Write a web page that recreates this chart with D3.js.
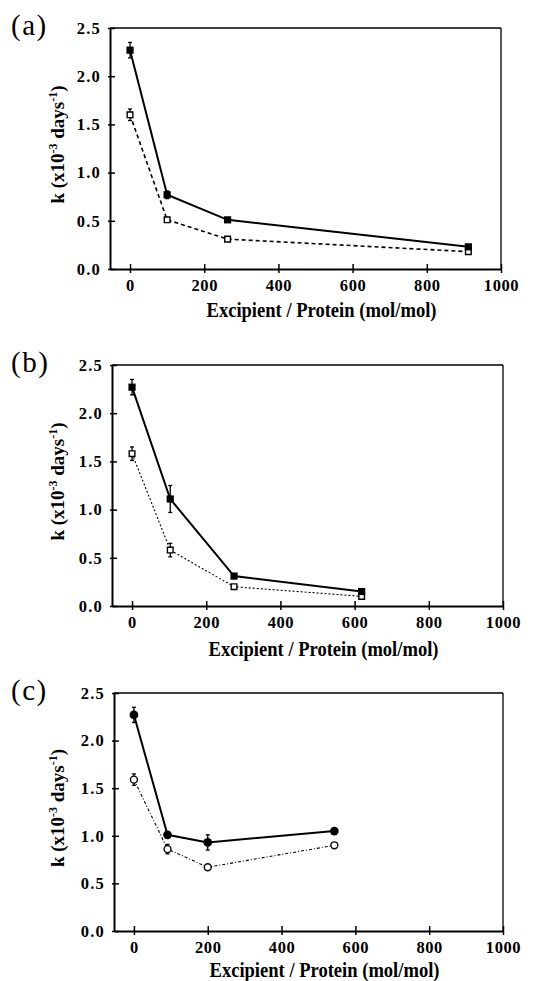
<!DOCTYPE html>
<html>
<head>
<meta charset="utf-8">
<script src="https://cdn.jsdelivr.net/npm/d3@7"></script>
<style>
  body { margin: 0; background: #fff; }
  svg text { font-family: "Liberation Serif", "Times New Roman", serif; font-weight: bold; fill: #000; }
</style>
</head>
<body>
<div id="chart"></div>
<script>
// ratio excipient/protein (mol/mol) and k (x10^-3 days^-1)
const xA = [0, 100, 263, 912];
const filledA = [2.27, 0.77, 0.51, 0.23];
const openA = [1.60, 0.51, 0.31, 0.18];
const errFilledA = [0.08, 0.04, 0, 0];
const errOpenA = [0.06, 0, 0, 0];

const xB = [0, 103, 275, 619];
const filledB = [2.27, 1.11, 0.31, 0.15];
const openB = [1.58, 0.58, 0.20, 0.10];
const errFilledB = [0.08, 0.14, 0, 0];
const errOpenB = [0.07, 0.07, 0, 0];

const xC = [0, 91, 200, 543];
const filledC = [2.27, 1.01, 0.93, 1.05];
const openC = [1.59, 0.86, 0.67, 0.90];
const errFilledC = [0.08, 0, 0.08, 0];
const errOpenC = [0.06, 0.05, 0, 0];

const xTicks = [0, 200, 400, 600, 800, 1000];
const yTicks = [0, 0.5, 1.0, 1.5, 2.0, 2.5];

const panels = [
  { label: '(a)', x: xA, filled: filledA, open: openA, errF: errFilledA, errO: errOpenA,
    marker: 'square', dash: '4,3', openWidth: 1.6, left: 110, right: 501, top: 28, bottom: 269, titleGap: 48 },
  { label: '(b)', x: xB, filled: filledB, open: openB, errF: errFilledB, errO: errOpenB,
    marker: 'square', dash: '2,2', openWidth: 1.1, left: 112, right: 503, top: 365, bottom: 606, titleGap: 50 },
  { label: '(c)', x: xC, filled: filledC, open: openC, errF: errFilledC, errO: errOpenC,
    marker: 'circle', dash: '3,2,1,2', openWidth: 1.1, left: 114, right: 503, top: 693, bottom: 931, titleGap: 46 }
];

const svg = d3.select('#chart')
  .append('svg')
  .attr('width', 534)
  .attr('height', 981);

panels.forEach(p => drawPanel(p));

function drawPanel (p) {
  const x = d3.scaleLinear().domain([-54, 1000]).range([p.left, p.right]);
  const y = d3.scaleLinear().domain([0, 2.5]).range([p.bottom, p.top]);
  const g = svg.append('g');

  // frame
  g.append('line').attr('x1', p.left).attr('x2', p.right).attr('y1', p.top).attr('y2', p.top)
    .attr('stroke', '#000').attr('stroke-width', 1.3);
  g.append('line').attr('x1', p.right).attr('x2', p.right).attr('y1', p.top).attr('y2', p.bottom)
    .attr('stroke', '#000').attr('stroke-width', 1.3);

  // x axis
  const xAxis = d3.axisBottom(x).tickValues(xTicks).tickFormat(d3.format('d'))
    .tickSizeInner(4).tickSizeOuter(0).tickPadding(6);
  const gx = g.append('g')
    .attr('transform', `translate(0,${p.bottom})`)
    .call(xAxis);
  gx.select('.domain').attr('stroke-width', 2);
  gx.selectAll('.tick line').attr('y1', -5).attr('stroke-width', 1.5);
  gx.selectAll('.tick text').style('font-size', '16.5px').style('letter-spacing', '0.6px')
    .style('font-family', null);

  // y axis
  const yAxis = d3.axisLeft(y).tickValues(yTicks).tickFormat(d3.format('.1f'))
    .tickSizeInner(2).tickSizeOuter(0).tickPadding(7);
  const gy = g.append('g')
    .attr('transform', `translate(${p.left},0)`)
    .call(yAxis);
  gy.select('.domain').attr('stroke-width', 2);
  gy.selectAll('.tick line').attr('x2', 5).attr('x1', -2).attr('stroke-width', 1.5);
  gy.selectAll('.tick text').style('font-size', '16.5px').style('letter-spacing', '1.2px')
    .style('font-family', null);

  const line = d3.line().x(d => x(d[0])).y(d => y(d[1]));
  const filledPts = p.x.map((v, i) => [v, p.filled[i], p.errF[i]]);
  const openPts = p.x.map((v, i) => [v, p.open[i], p.errO[i]]);

  g.append('path').attr('d', line(openPts)).attr('fill', 'none')
    .attr('stroke', '#000').attr('stroke-width', p.openWidth).attr('stroke-dasharray', p.dash);
  g.append('path').attr('d', line(filledPts)).attr('fill', 'none')
    .attr('stroke', '#000').attr('stroke-width', 2);

  // error bars
  [filledPts, openPts].forEach(pts => {
    const eb = g.append('g').selectAll('g').data(pts.filter(d => d[2] > 0)).enter().append('g');
    eb.append('line')
      .attr('x1', d => x(d[0])).attr('x2', d => x(d[0]))
      .attr('y1', d => y(d[1] - d[2])).attr('y2', d => y(d[1] + d[2]))
      .attr('stroke', '#000').attr('stroke-width', 1.3);
    eb.append('line')
      .attr('x1', d => x(d[0]) - 2).attr('x2', d => x(d[0]) + 2)
      .attr('y1', d => y(d[1] + d[2])).attr('y2', d => y(d[1] + d[2]))
      .attr('stroke', '#000').attr('stroke-width', 1.3);
    eb.append('line')
      .attr('x1', d => x(d[0]) - 2).attr('x2', d => x(d[0]) + 2)
      .attr('y1', d => y(d[1] - d[2])).attr('y2', d => y(d[1] - d[2]))
      .attr('stroke', '#000').attr('stroke-width', 1.3);
  });

  // markers
  const sym = d3.symbol().type(p.marker === 'square' ? d3.symbolSquare : d3.symbolCircle);
  g.append('g').selectAll('path').data(openPts).enter().append('path')
    .attr('d', sym.size(p.marker === 'square' ? 32 : 38)())
    .attr('transform', d => `translate(${x(d[0])},${y(d[1])})`)
    .attr('fill', '#fff').attr('stroke', '#000').attr('stroke-width', 1.4);
  g.append('g').selectAll('path').data(filledPts).enter().append('path')
    .attr('d', sym.size(p.marker === 'square' ? 52 : 60)())
    .attr('transform', d => `translate(${x(d[0])},${y(d[1])})`)
    .attr('fill', '#000');

  // panel label
  g.append('text').attr('x', 11).attr('y', p.top + 7)
    .style('font-size', '29px').style('font-weight', 'normal').style('letter-spacing', '1.5px')
    .text(p.label);

  // y title
  const yt = g.append('text')
    .attr('transform', `translate(64,${(p.top + p.bottom) / 2 - 4}) rotate(-90)`)
    .attr('text-anchor', 'middle')
    .style('font-size', '19px');
  yt.append('tspan').text('k (x10');
  yt.append('tspan').attr('dy', -7).style('font-size', '12px').text('-3');
  yt.append('tspan').attr('dy', 7).text(' days');
  yt.append('tspan').attr('dy', -7).style('font-size', '12px').text('-1');
  yt.append('tspan').attr('dy', 7).text(')');

  // x title
  g.append('text')
    .attr('x', (p.left + p.right) / 2 + 16)
    .attr('y', p.bottom + p.titleGap)
    .attr('text-anchor', 'middle')
    .attr('textLength', 230)
    .attr('lengthAdjust', 'spacingAndGlyphs')
    .style('font-size', '21px')
    .text('Excipient / Protein (mol/mol)');
}
</script>
</body>
</html>
